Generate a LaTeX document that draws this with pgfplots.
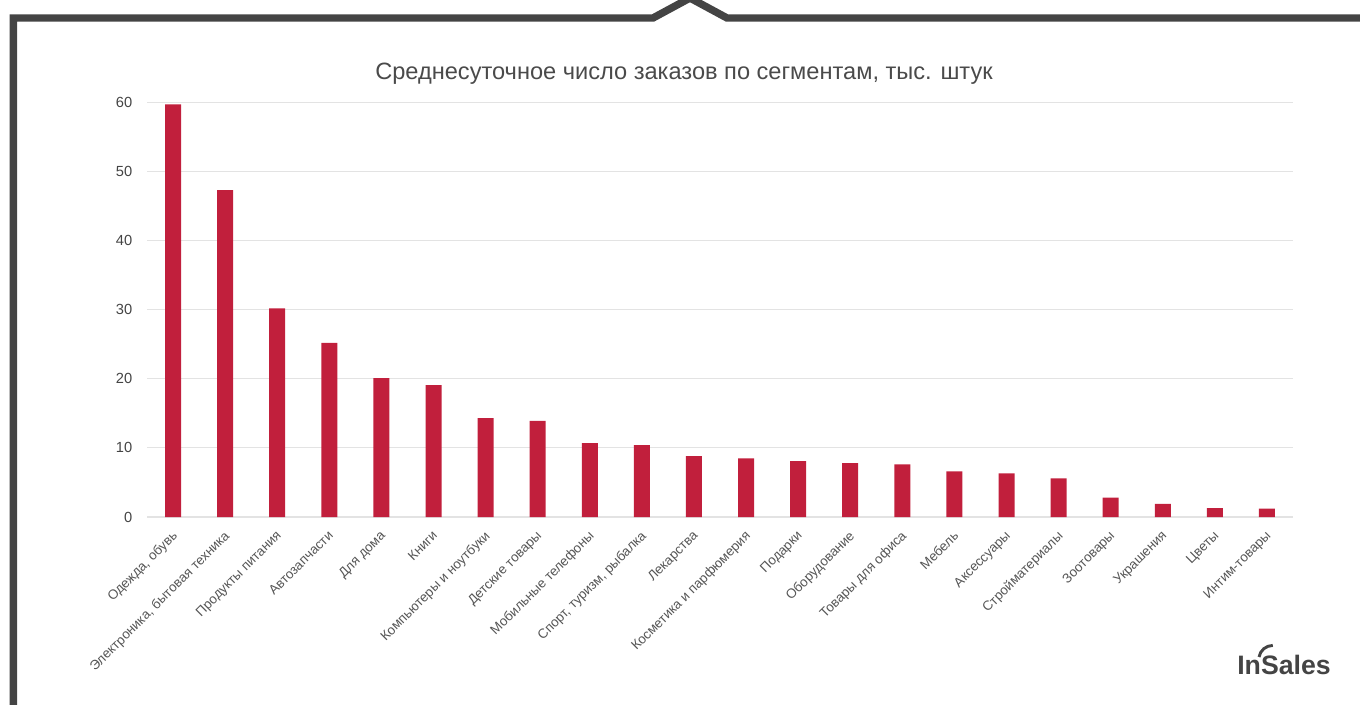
\documentclass[border=0pt]{standalone}
\usepackage{pgfplots}
\pgfplotsset{compat=1.18}
\usepackage{fontspec}
\setmainfont{Liberation Sans}
\definecolor{barred}{HTML}{C11F3C}
\definecolor{frame}{HTML}{444444}
\definecolor{ticktext}{HTML}{555555}
\definecolor{titletext}{HTML}{4A4A4A}
\definecolor{gridc}{HTML}{E3E3E3}
\pgfplotstableread{
x y
0 59.7
1 47.3
2 30.2
3 25.2
4 20.1
5 19.1
6 14.3
7 13.9
8 10.7
9 10.4
10 8.8
11 8.5
12 8.1
13 7.8
14 7.6
15 6.6
16 6.3
17 5.6
18 2.8
19 1.9
20 1.3
21 1.2
}\datatable
\begin{document}
\begin{tikzpicture}
% bounding box 1360x704 px at 0.75pt/px
\useasboundingbox (0,0) rectangle (1020pt,528pt);
\begin{scope}[x=0.75pt,y=-0.75pt,yshift=528pt]
\draw[frame,line width=5.6pt,line join=miter] (13.3,710) -- (13.3,18) -- (653,18) -- (690,-2) -- (727,18) -- (1370,18);
\node[font=\fontsize{17.7}{21}\selectfont,text=titletext] at (684,74) {Среднесуточное число заказов по сегментам, тыс. штук};
\node[font=\fontsize{20}{24}\selectfont\bfseries,text=frame,anchor=base] at (1284,674) {InSales};
\draw[frame,line width=2.2pt] (1259,657) arc[start angle=-170,end angle=-90,radius=14];
\end{scope}
\begin{axis}[
  at={(110.25pt,140.25pt)}, anchor=south west,
  scale only axis,
  width=859.5pt, height=311pt,
  xmin=-0.5, xmax=21.5,
  ymin=0, ymax=60,
  ytick={0,10,...,60},
  xtick=data,
  xticklabels={{Одежда, обувь},{Электроника, бытовая техника},{Продукты питания},{Автозапчасти},{Для дома},{Книги},{Компьютеры и ноутбуки},{Детские товары},{Мобильные телефоны},{Спорт, туризм, рыбалка},{Лекарства},{Косметика и парфюмерия},{Подарки},{Оборудование},{Товары для офиса},{Мебель},{Аксессуары},{Стройматериалы},{Зоотовары},{Украшения},{Цветы},{Интим-товары}},
  xticklabel style={anchor=north east,xshift=-1.5pt,yshift=-8pt,rotate=45,font=\fontsize{10}{12}\selectfont,text=ticktext,inner sep=1pt},
  yticklabel style={font=\fontsize{11}{13}\selectfont,text=frame,xshift=-7.5pt},
  /pgf/number format/assume math mode=true,
  axis line style={draw=none},
  major tick length=0pt,
  ymajorgrids,
  grid style={gridc,line width=0.9pt},
  ybar, bar width=12pt,
]
\addplot[fill=barred,draw=none] table[x=x,y=y] {\datatable};
\end{axis}
\end{tikzpicture}
\end{document}
